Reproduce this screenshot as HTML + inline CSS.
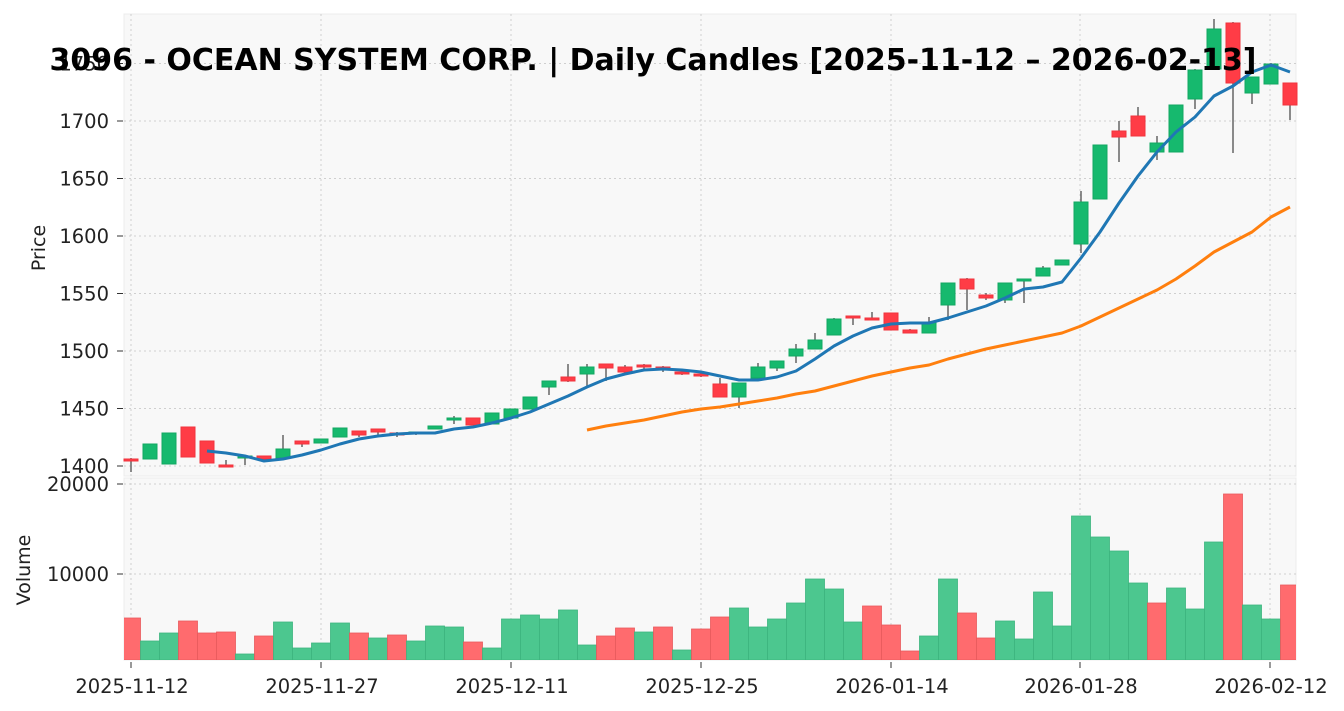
<!DOCTYPE html>
<html><head><meta charset="utf-8"><style>
body{margin:0;background:#fff;}
svg{display:block;font-family:"DejaVu Sans","Liberation Sans",sans-serif;}
</style></head><body>
<svg id="s" width="1344" height="711" xmlns="http://www.w3.org/2000/svg">
<defs><clipPath id="cv"><rect x="124" y="478" width="1172" height="182"/></clipPath></defs>
<rect x="0" y="0" width="1344" height="711" fill="#fff"/>
<rect x="124" y="14" width="1172" height="462" fill="#f8f8f8" stroke="#ececec"/>
<rect x="124" y="478" width="1172" height="182" fill="#f8f8f8" stroke="#ececec"/>
<g id="grid" stroke="#cfcfcf" stroke-dasharray="2,3" stroke-width="1"></g>
<g id="ticks" stroke="#333" stroke-width="1"></g>
<g id="vol" clip-path="url(#cv)"></g>
<g id="candles"></g>
<g id="lines"></g>
<g font-size="19.5" fill="#222" text-anchor="end">
<text x="109" y="473">1400</text>
<text x="109" y="415.5">1450</text>
<text x="109" y="358">1500</text>
<text x="109" y="300.5">1550</text>
<text x="109" y="243">1600</text>
<text x="109" y="185.5">1650</text>
<text x="109" y="128">1700</text>
<text x="109" y="70.5">1750</text>
<text x="109" y="491">20000</text>
<text x="109" y="581">10000</text>
</g>
<g font-size="19.5" fill="#222" text-anchor="middle">
<text x="132" y="693">2025-11-12</text>
<text x="322" y="693">2025-11-27</text>
<text x="512" y="693">2025-12-11</text>
<text x="702" y="693">2025-12-25</text>
<text x="892" y="693">2026-01-14</text>
<text x="1081" y="693">2026-01-28</text>
<text x="1271" y="693">2026-02-12</text>
</g>
<text transform="translate(45,248) rotate(-90)" font-size="19" fill="#222" text-anchor="middle">Price</text>
<text transform="translate(30,570) rotate(-90)" font-size="19" fill="#222" text-anchor="middle">Volume</text>
<text x="653" y="70" font-size="30" font-weight="bold" fill="#000" text-anchor="middle">3096 - OCEAN SYSTEM CORP. | Daily Candles [2025-11-12 – 2026-02-13]</text>
</svg>
<script>
var NS="http://www.w3.org/2000/svg";
function el(p,t,a){var e=document.createElementNS(NS,t);for(var k in a)e.setAttribute(k,a[k]);document.getElementById(p).appendChild(e);return e;}
[131,321,511,701,891,1080,1270].forEach(function(x){el("grid","line",{x1:x,x2:x,y1:14,y2:476});el("grid","line",{x1:x,x2:x,y1:478,y2:660});el("ticks","line",{x1:x,x2:x,y1:662,y2:668});});
[466,408.5,351,293.5,236,178.5,121,63.5].forEach(function(y){el("grid","line",{x1:124,x2:1296,y1:y,y2:y});el("ticks","line",{x1:117,x2:123,y1:y,y2:y});});
[484,574].forEach(function(y){el("grid","line",{x1:124,x2:1296,y1:y,y2:y});el("ticks","line",{x1:117,x2:123,y1:y,y2:y});});
var C=[[459,461,458,472,'r'],[444,459,444,459,'g'],[433,464,433,464,'g'],[427,457,427,457,'r'],[441,463,441,463,'r'],
[465,467,460,467,'r'],[456,458,455,465,'g'],[456,459,456,462,'r'],[449,458,435,458,'g'],[441,444,441,447,'r'],
[439,443,439,443,'g'],[428,437,428,437,'g'],[431,435,431,437,'r'],[429,432,429,436,'r'],[433,435,432,437,'r'],
[432,434,432,435,'g'],[426,429,426,429,'g'],[418,420,416,424,'g'],[418,425,418,425,'r'],[413,424,413,424,'g'],
[409,418,409,418,'g'],[397,409,397,409,'g'],[381,387,381,395,'g'],[377,381,364,382,'r'],[367,374,364,386,'g'],
[364,368,364,381,'r'],[367,372,365,375,'r'],[365,367,364,370,'r'],[367,370,366,372,'r'],[372,374,371,375,'r'],
[374,376,373,377,'r'],[384,397,378,397,'r'],[383,397,383,408,'g'],[367,378,363,378,'g'],[361,368,361,371,'g'],
[349,356,344,363,'g'],[340,349,333,349,'g'],[319,335,318,335,'g'],[316,318,316,325,'r'],[318,320,312,320,'r'],
[313,330,313,330,'r'],[330,333,329,333,'r'],[322,333,317,333,'g'],[283,305,283,320,'g'],[279,289,278,310,'r'],
[295,298,293,300,'r'],[283,300,283,303,'g'],[279,281,279,303,'g'],[268,276,266,276,'g'],[260,265,260,265,'g'],
[202,244,191,253,'g'],[145,199,145,199,'g'],[131,137,121,162,'r'],[116,136,107,136,'r'],[143,152,136,160,'g'],
[105,152,105,152,'g'],[70,99,69,109,'g'],[29,69,19,69,'g'],[23,83,22,153,'r'],[77,93,77,104,'g'],
[64,84,63,84,'g'],[83,105,83,120,'r']];
C.forEach(function(c,i){var x=131+19*i;
el("candles","line",{x1:x,x2:x,y1:c[2],y2:c[3],stroke:"#666","stroke-width":1.5});
var h=Math.max(c[1]-c[0],2);
el("candles","rect",{x:x-7,y:c[0],width:14,height:h,fill:c[4]=='g'?"#16b96e":"#ff3c46",stroke:c[4]=='g'?"#12a862":"#f0333d","stroke-width":1});});
var V=[[618,'r'],[641,'g'],[633,'g'],[621,'r'],[633,'r'],[632,'r'],[654,'g'],[636,'r'],[622,'g'],[648,'g'],
[643,'g'],[623,'g'],[633,'r'],[638,'g'],[635,'r'],[641,'g'],[626,'g'],[627,'g'],[642,'r'],[648,'g'],
[619,'g'],[615,'g'],[619,'g'],[610,'g'],[645,'g'],[636,'r'],[628,'r'],[632,'g'],[627,'r'],[650,'g'],
[629,'r'],[617,'r'],[608,'g'],[627,'g'],[619,'g'],[603,'g'],[579,'g'],[589,'g'],[622,'g'],[606,'r'],
[625,'r'],[651,'r'],[636,'g'],[579,'g'],[613,'r'],[638,'r'],[621,'g'],[639,'g'],[592,'g'],[626,'g'],
[516,'g'],[537,'g'],[551,'g'],[583,'g'],[603,'r'],[588,'g'],[609,'g'],[542,'g'],[494,'r'],[605,'g'],[619,'g'],[585,'r']];
V.forEach(function(v,i){var x=131+19*i;
el("vol","rect",{x:x-9.5,y:v[0],width:19,height:660-v[0],fill:v[1]=='g'?"#4cc78f":"#ff6b6e",stroke:v[1]=='g'?"#3db57f":"#e85a5d","stroke-width":0.8});});
var B=[451,453,456,461,459,455,450,444,439,436,434,433,433,429,427,423,418,412,404,396,387,379,374,370,369,370,372,376,380,380,377,371,359,346,336,328,324,323,323,318,312,306,298,289,287,282,258,232,203,176,152,132,117,96,86,72,65,72];
var O=[430,426,423,420,416,412,409,407,404,401,398,394,391,386,381,376,372,368,365,359,354,349,345,341,337,333,326,317,308,299,290,279,266,252,242,232,217,207];
function pl(a,s,col){var p=a.map(function(y,i){return (131+19*(i+s))+","+y;}).join(" ");
el("lines","polyline",{points:p,fill:"none",stroke:col,"stroke-width":3,"stroke-linejoin":"round"});}
pl(O,24,"#ff7f0e");pl(B,4,"#1f77b4");
</script>
</body></html>
